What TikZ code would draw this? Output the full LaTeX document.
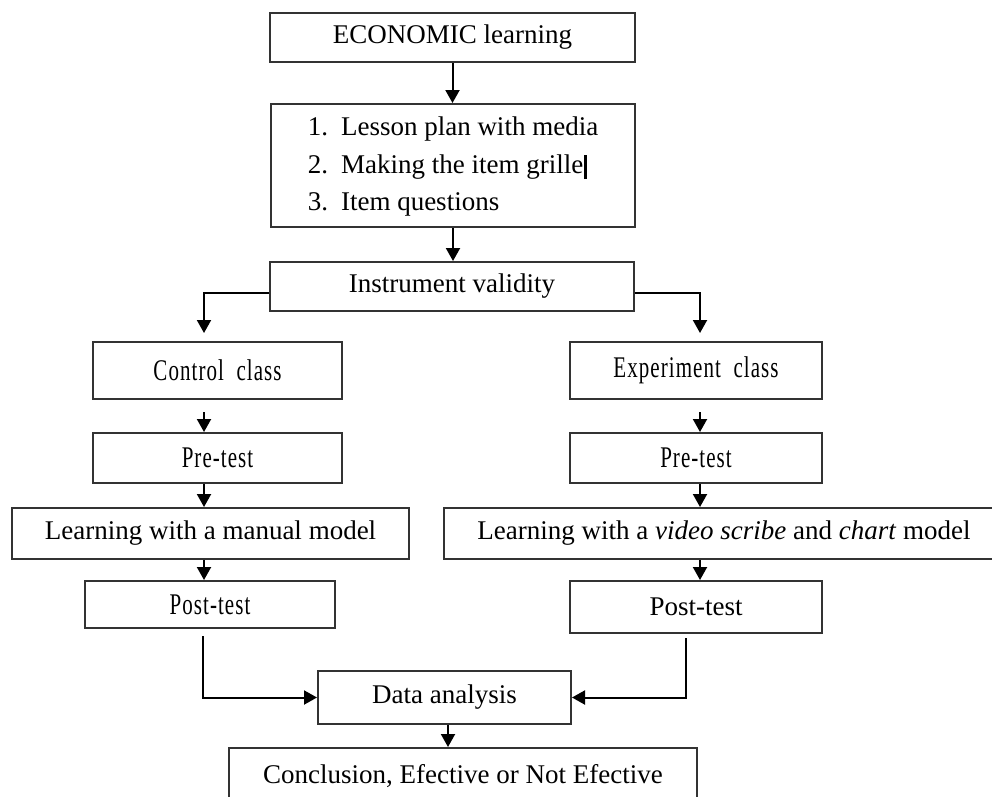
\documentclass[tikz,border=0pt]{standalone}
\usepackage{fontspec}
\usepackage{graphicx}
\setmainfont{Liberation Serif}
\newfontfamily\spacedserif[LetterSpace=5]{Liberation Serif}
\usetikzlibrary{arrows.meta,calc}
\newcommand\condtext[1]{\scalebox{0.7}[1]{\fontsize{30}{36}\selectfont\spacedserif #1}}
\begin{document}
\begin{tikzpicture}[x=1pt,y=-1pt,
  box/.style={draw=black!80, line width=2pt, inner sep=0pt, fill=white,
    font=\fontsize{27}{37.5}\selectfont},
  arr/.style={draw=black, line width=2pt, -{Triangle[length=13pt,width=14pt]}},
]
\useasboundingbox (0,0) rectangle (992,796);
\clip (0,0) rectangle (992,796);

% nodes
\node[box, minimum width=365pt, minimum height=49pt] (econ) at (452.5,37.5) {ECONOMIC learning};
\node[box, minimum width=364pt, minimum height=123pt] (plan) at (453,165.5)
  {\begin{tabular}{@{}l@{\hspace{13pt}}l@{}}
   1. & Lesson plan with media\\
   2. & Making the item grille\hspace{1pt}\rule[-6pt]{2.5pt}{24pt}\\
   3. & Item questions
   \end{tabular}};
\node[box, minimum width=364pt, minimum height=49pt] (inst) at (452,286.5) {Instrument validity};

\node[box, minimum width=249pt, minimum height=57pt] (ctrl) at (217.5,370.5) {\condtext{Control\ \ class}};
\node[box, minimum width=252pt, minimum height=57pt] (expt) at (696,370.5) {\condtext{Experiment\ \ class}};

\node[box, minimum width=249pt, minimum height=50pt] (pre1) at (217.5,458) {\condtext{Pre-test}};
\node[box, minimum width=252pt, minimum height=50pt] (pre2) at (696,458) {\condtext{Pre-test}};

\node[box, minimum width=397pt, minimum height=51pt] (learn1) at (210.5,533.5) {Learning with a manual model};
\node[box, minimum width=560pt, minimum height=51pt] (learn2) at (724,533.5) {Learning with a \textit{video scribe} and \textit{chart} model};

\node[box, minimum width=250pt, minimum height=47pt] (post1) at (210,604.5) {\condtext{Post-test}};
\node[box, minimum width=252pt, minimum height=52pt] (post2) at (696,607) {Post-test};

\node[box, minimum width=253pt, minimum height=53pt] (data) at (444.5,697.5) {Data analysis};
\node[box, minimum width=468pt, minimum height=56pt] (concl) at (463,776) {Conclusion, Efective or Not Efective};

% column coordinates
\coordinate (L) at (204,0);
\coordinate (R) at (700,0);
\coordinate (M) at (448,0);

% connectors
\draw[arr] (econ.south) -- (econ.south |- plan.north);
\draw[arr] (plan.south) -- (plan.south |- inst.north);
\draw[arr, shorten >=8pt] ($(inst.west)+(0,6.5)$) -| (ctrl.north -| L);
\draw[arr, shorten >=8pt] ($(inst.east)+(0,6.5)$) -| (expt.north -| R);
\draw[arr, shorten <=12pt] (ctrl.south -| L) -- (pre1.north -| L);
\draw[arr, shorten <=12pt] (expt.south -| R) -- (pre2.north -| R);
\draw[arr] (pre1.south -| L) -- (learn1.north -| L);
\draw[arr] (pre2.south -| R) -- (learn2.north -| R);
\draw[arr] (learn1.south -| L) -- (post1.north -| L);
\draw[arr] (learn2.south -| R) -- (post2.north -| R);
\draw[arr, shorten <=7pt] ($(post1.south -| L)+(-1,0)$) |- (data.west);
\draw[arr, shorten <=4pt] ($(post2.south)+(-10,0)$) |- (data.east);
\draw[arr] (data.south -| M) -- (concl.north -| M);
\end{tikzpicture}
\end{document}
